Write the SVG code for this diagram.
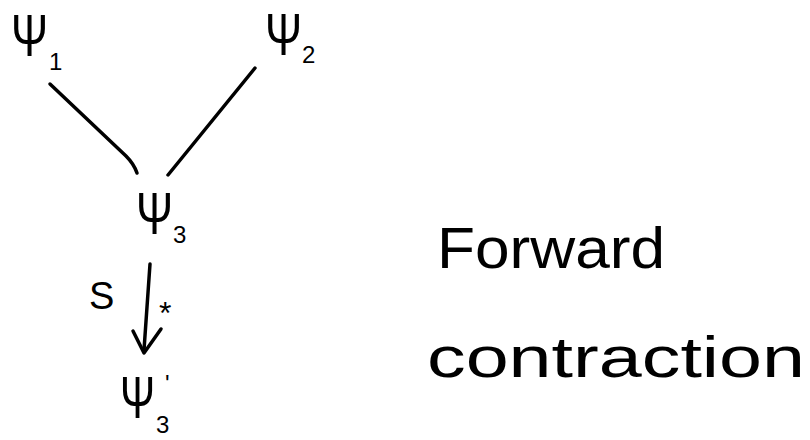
<svg xmlns="http://www.w3.org/2000/svg" width="810" height="440" viewBox="0 0 810 440">
<style>
.t{font-family:"Liberation Sans",Arial,sans-serif;fill:#000}
.psi{font-size:60px}
.sub{font-size:24px}
.word{font-size:58px}
.c{stroke:#000;stroke-width:3.5;fill:none;stroke-linecap:round;stroke-linejoin:round}
</style>
<rect width="810" height="440" fill="#fff"/>
<g id="psi1"><text class="t psi" transform="translate(11,56) scale(0.74,1)">Ψ</text><text class="t sub" x="49" y="70">1</text></g>
<g id="psi2"><text class="t psi" transform="translate(265,55) scale(0.74,1)">Ψ</text><text class="t sub" x="302" y="63">2</text></g>
<g id="psi3"><text class="t psi" transform="translate(136,234) scale(0.74,1)">Ψ</text><text class="t sub" x="173" y="243">3</text></g>
<g id="psi3p"><text class="t psi" transform="translate(120,418) scale(0.7,1)">Ψ</text><text class="t sub" x="165" y="392">'</text><text class="t sub" x="156" y="433">3</text></g>
<g id="connectors">
<path class="c" d="M50,84 L126,156 Q134,164 137,173"/>
<path class="c" d="M255,68 L168,175"/>
<path class="c" d="M150,264 L144,350"/>
<path class="c" d="M133,331 L144,353 L161,329"/>
<text class="t" x="89" y="309" font-size="38">S</text>
<text class="t" x="159" y="324" font-size="32">*</text>
</g>
<g id="label"><text class="t word" x="437" y="268" textLength="228" lengthAdjust="spacingAndGlyphs">Forward</text><text class="t word" x="427" y="377" textLength="378" lengthAdjust="spacingAndGlyphs">contraction</text></g>
</svg>
